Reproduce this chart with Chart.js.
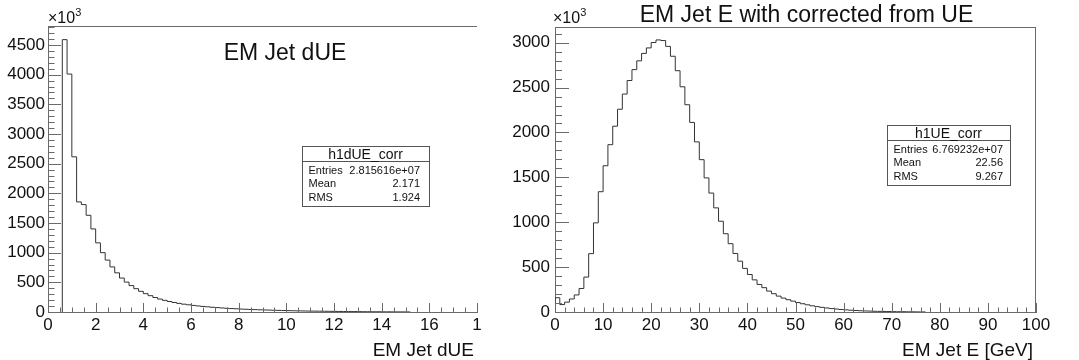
<!DOCTYPE html>
<html>
<head>
<meta charset="utf-8">
<title>EM Jet dUE / EM Jet E with corrected from UE</title>
<script src="https://cdn.jsdelivr.net/npm/chart.js@4.4.1/dist/chart.umd.min.js"></script>
<style>
  html, body { margin: 0; padding: 0; background: #fff; }
  #wrap { position: relative; width: 1079px; height: 360px; overflow: hidden; }
  canvas { position: absolute; top: 0; }
  #due-chart { left: 0; }
  #e-chart { left: 495px; }
</style>
</head>
<body>
<div id="wrap">
  <canvas id="due-chart" width="495" height="360"></canvas>
  <canvas id="e-chart" width="584" height="360"></canvas>
</div>
<script>
// Left pad: h1dUE_corr, bins of 0.2 starting at 0.6, counts in units of 10^3
const dueBinLow = 0.6;
const dueBinWidth = 0.2;
const dueCounts = [
  4590, 4010, 2615, 1855, 1810, 1630, 1400, 1165, 1000, 875,
  760, 660, 572, 504, 445, 393, 348, 309, 275, 244,
  218, 196, 177, 160, 145, 132, 121, 111, 102, 94,
  87, 80, 74, 68, 63, 58, 54, 50, 46, 43,
  40, 37, 34, 32, 29, 27, 25, 23, 21, 19,
  18, 16, 15, 14, 13, 12, 11, 10, 9, 8,
  7, 7, 6, 5, 5, 4, 4, 3, 3, 2,
  2, 2, 1
];
const dueXTicks = [0, 2, 4, 6, 8, 10, 12, 14, 16, 18];
const dueXLabels = ['0', '2', '4', '6', '8', '10', '12', '14', '16', '1'];
const dueYTicks = [0, 500, 1000, 1500, 2000, 2500, 3000, 3500, 4000, 4500];
const dueStatNames = ['Entries', 'Mean', 'RMS'];
const dueStatValues = ['2.815616e+07', '2.171', '1.924'];

// Right pad: h1UE_corr, 1 GeV bins from 0, counts in units of 10^3
const eBinLow = 0;
const eBinWidth = 1;
const eCounts = [
  159, 83, 110, 145, 190, 262, 389, 650, 993, 1340,
  1629, 1864, 2070, 2259, 2428, 2579, 2700, 2798, 2881, 2942,
  3002, 3031, 3024, 2959, 2849, 2688, 2509, 2309, 2112, 1895,
  1697, 1494, 1325, 1160, 1011, 872, 761, 652, 566, 486,
  418, 358, 307, 271, 233, 204, 177, 155, 137, 121,
  105, 92, 80, 69, 60, 52, 45, 38, 33, 28,
  24, 20, 17, 14, 12, 10, 8, 7, 6, 5,
  4, 3, 3, 2, 2, 1, 1
];
const eXTicks = [0, 10, 20, 30, 40, 50, 60, 70, 80, 90, 100];
const eXLabels = ['0', '10', '20', '30', '40', '50', '60', '70', '80', '90', '100'];
const eYTicks = [0, 500, 1000, 1500, 2000, 2500, 3000];
const eStatNames = ['Entries', 'Mean', 'RMS'];
const eStatValues = ['6.769232e+07', '22.56', '9.267'];

const FONT = '"Liberation Sans", Arial, Helvetica, sans-serif';
const AXIS_COLOR = '#6a6a6a';
const TEXT_COLOR = '#111';

// ROOT-style outline: up at the first edge, steps, down at the last edge
function histPoints(low, width, counts) {
  const pts = [{ x: low, y: 0 }];
  counts.forEach((c, i) => pts.push({ x: low + i * width, y: c }));
  pts.push({ x: low + counts.length * width, y: 0 });
  return pts;
}

function isMajor(v, step) {
  return Math.abs(v / step - Math.round(v / step)) < 1e-6;
}

// frame, inner ticks, titles and the stats box
const rootDecor = {
  id: 'rootDecor',
  afterDraw(chart, args, o) {
    const { ctx, chartArea: a, scales: { x, y } } = chart;
    ctx.save();
    ctx.strokeStyle = AXIS_COLOR;
    ctx.lineWidth = 1;
    ctx.beginPath();
    ctx.moveTo(a.left, a.top + 0.5);
    ctx.lineTo(a.right, a.top + 0.5);
    if (o.rightFrame) {
      ctx.moveTo(a.right - 0.5, a.top);
      ctx.lineTo(a.right - 0.5, a.bottom);
    }
    for (let v = x.min; v <= x.max + 1e-9; v += o.xMinor) {
      const px = Math.round(x.getPixelForValue(v)) + 0.5;
      const len = isMajor(v, o.xMajor) ? o.xTickLen : o.xTickLen / 2;
      ctx.moveTo(px, a.bottom);
      ctx.lineTo(px, a.bottom - len);
    }
    for (let v = y.min; v <= y.max + 1e-9; v += o.yMinor) {
      const py = Math.round(y.getPixelForValue(v)) + 0.5;
      const len = isMajor(v, o.yMajor) ? o.yTickLen : o.yTickLen / 2;
      ctx.moveTo(a.left, py);
      ctx.lineTo(a.left + len, py);
    }
    ctx.stroke();

    ctx.fillStyle = TEXT_COLOR;
    // x10^3 exponent
    ctx.textAlign = 'left';
    ctx.textBaseline = 'alphabetic';
    ctx.font = '16px ' + FONT;
    ctx.fillText('\u00d710', o.expX, 23);
    const w = ctx.measureText('\u00d710').width;
    ctx.font = '11px ' + FONT;
    ctx.fillText('3', o.expX + w, 16);

    // histogram title
    ctx.textAlign = 'center';
    ctx.font = '23px ' + FONT;
    ctx.fillText(o.title, o.titleX, o.titleY);

    // x axis title
    ctx.textAlign = 'right';
    ctx.font = '19px ' + FONT;
    ctx.fillText(o.xTitle, a.right - 3, 356);

    // stats box
    const b = o.box;
    ctx.fillStyle = '#fff';
    ctx.fillRect(b.x, b.y, b.w, b.h);
    ctx.strokeStyle = '#555';
    ctx.strokeRect(b.x + 0.5, b.y + 0.5, b.w, b.h);
    ctx.beginPath();
    ctx.moveTo(b.x, b.y + 15.5);
    ctx.lineTo(b.x + b.w, b.y + 15.5);
    ctx.stroke();
    ctx.fillStyle = TEXT_COLOR;
    ctx.textAlign = 'center';
    ctx.font = '14px ' + FONT;
    ctx.fillText(o.boxTitle, b.x + b.w / 2, b.y + 12.5);
    ctx.font = '11px ' + FONT;
    o.statNames.forEach((name, i) => {
      const by = b.y + 27.5 + i * 13.8;
      ctx.textAlign = 'left';
      ctx.fillText(name, b.x + 6.5, by);
      ctx.textAlign = 'right';
      ctx.fillText(o.statValues[i], b.x + b.w - b.padR, by);
    });
    ctx.restore();
  }
};

function makeHist(id, c) {
  return new Chart(document.getElementById(id).getContext('2d'), {
    type: 'line',
    data: {
      datasets: [{
        data: histPoints(c.low, c.width, c.counts),
        stepped: true,
        borderColor: '#333',
        borderWidth: 1,
        pointRadius: 0,
        fill: false
      }]
    },
    options: {
      responsive: false,
      animation: false,
      events: [],
      layout: { padding: { top: c.padTop, right: c.padRight, left: 0, bottom: 0 } },
      plugins: {
        legend: { display: false },
        tooltip: { enabled: false },
        rootDecor: c.decor
      },
      scales: {
        x: {
          type: 'linear',
          min: c.xMin,
          max: c.xMax,
          grid: { display: false, drawTicks: false },
          border: { display: true, color: AXIS_COLOR, width: 1 },
          afterFit: s => { s.height = 48; },
          afterBuildTicks: s => { s.ticks = c.xTicks.map(v => ({ value: v })); },
          ticks: {
            autoSkip: false,
            maxRotation: 0,
            padding: 3,
            color: TEXT_COLOR,
            font: { family: FONT, size: 17 },
            callback: (v, i) => c.xLabels[i]
          }
        },
        y: {
          type: 'linear',
          min: 0,
          max: c.yMax,
          grid: { display: false, drawTicks: false },
          border: { display: true, color: AXIS_COLOR, width: 1 },
          afterFit: s => { s.width = c.yWidth; },
          afterBuildTicks: s => { s.ticks = c.yTicks.map(v => ({ value: v })); },
          ticks: {
            autoSkip: false,
            padding: c.yPad,
            color: TEXT_COLOR,
            font: { family: FONT, size: 17 },
            callback: v => String(v)
          }
        }
      }
    },
    plugins: [rootDecor]
  });
}

makeHist('due-chart', {
  low: dueBinLow, width: dueBinWidth, counts: dueCounts,
  xMin: 0, xMax: 18, yMax: 4820,
  xTicks: dueXTicks, xLabels: dueXLabels, yTicks: dueYTicks,
  padTop: 26, padRight: 18, yWidth: 48, yPad: 3,
  decor: {
    rightFrame: false,
    xMajor: 2, xMinor: 0.5, xTickLen: 9,
    yMajor: 500, yMinor: 100, yTickLen: 13,
    expX: 48,
    title: 'EM Jet dUE', titleX: 285, titleY: 59.5,
    xTitle: 'EM Jet dUE',
    box: { x: 302, y: 146, w: 127, h: 60, padR: 9 },
    boxTitle: 'h1dUE_corr',
    statNames: dueStatNames, statValues: dueStatValues
  }
});

makeHist('e-chart', {
  low: eBinLow, width: eBinWidth, counts: eCounts,
  xMin: 0, xMax: 100, yMax: 3175,
  xTicks: eXTicks, xLabels: eXLabels, yTicks: eYTicks,
  padTop: 27, padRight: 43, yWidth: 60, yPad: 5,
  decor: {
    rightFrame: true,
    xMajor: 10, xMinor: 2, xTickLen: 9,
    yMajor: 500, yMinor: 100, yTickLen: 14,
    expX: 58,
    title: 'EM Jet E with corrected from UE', titleX: 311.5, titleY: 21.5,
    xTitle: 'EM Jet E [GeV]',
    box: { x: 392, y: 125, w: 123, h: 60, padR: 7 },
    boxTitle: 'h1UE_corr',
    statNames: eStatNames, statValues: eStatValues
  }
});
</script>
</body>
</html>
